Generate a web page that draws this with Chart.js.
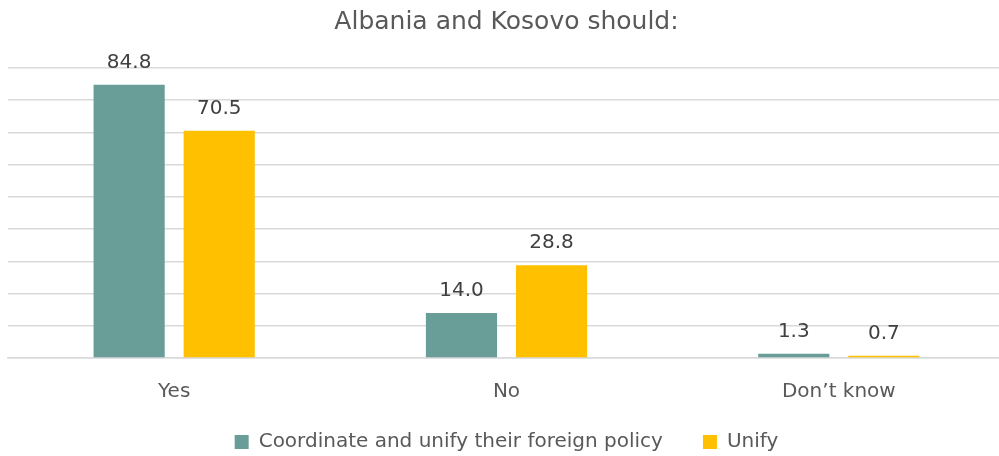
<!DOCTYPE html>
<html>
<head>
<meta charset="utf-8">
<script src="https://cdn.jsdelivr.net/npm/chart.js@4.4.0/dist/chart.umd.min.js"></script>
<style>
  html, body { margin: 0; padding: 0; background: #fff; overflow: hidden; }
  #wrap { width: 1006px; height: 456px; }
</style>
</head>
<body>
<div id="wrap"><canvas id="chart" width="1006" height="456"></canvas></div>
<script>
const categories = ['Yes', 'No', 'Don\u2019t know'];
const coordinate = [84.8, 14.0, 1.3];
const unify = [70.5, 28.8, 0.7];
const seriesNames = ['Coordinate and unify their foreign policy', 'Unify'];

const textColor = '#595959';
const fontFamily = '"DejaVu Sans", sans-serif';

// value labels above each bar, one decimal
const barValues = {
    id: 'barValues',
    afterDatasetsDraw(chart) {
        const ctx = chart.ctx;
        ctx.save();
        ctx.font = '20px ' + fontFamily;
        ctx.fillStyle = '#404040';
        ctx.textAlign = 'center';
        ctx.textBaseline = 'bottom';
        chart.data.datasets.forEach(function (ds, i) {
            chart.getDatasetMeta(i).data.forEach(function (bar, j) {
                ctx.fillText(ds.data[j].toFixed(1), bar.x, bar.y - 12);
            });
        });
        ctx.restore();
    }
};

// legend padding is wide for the gap between items; grow the box upward
// so the row sits just under the axis labels
const legendNudge = {
    id: 'legendNudge',
    afterLayout(chart) {
        chart.legend.top -= 26;
        chart.legend.height += 26;
    }
};

const ctx = document.getElementById('chart');
new Chart(ctx, {
    type: 'bar',
    data: {
        labels: categories,
        datasets: [
            {
                label: seriesNames[0],
                data: coordinate,
                backgroundColor: '#699D97'
            },
            {
                label: seriesNames[1],
                data: unify,
                backgroundColor: '#FFC000'
            }
        ]
    },
    options: {
        responsive: false,
        animation: false,
        categoryPercentage: 0.542,
        barPercentage: 0.79,
        layout: {
            padding: { left: 8, right: 1, top: 0, bottom: -6 }
        },
        scales: {
            y: {
                min: 0,
                max: 90,
                ticks: { display: false, stepSize: 10 },
                border: { display: false },
                grid: { color: '#D9D9D9', lineWidth: 1.5, drawTicks: false }
            },
            x: {
                grid: { display: false },
                border: { color: '#D9D9D9', width: 1.5 },
                ticks: {
                    color: textColor,
                    padding: 14,
                    font: { family: fontFamily, size: 20 }
                }
            }
        },
        plugins: {
            title: {
                display: true,
                text: 'Albania and Kosovo should:',
                color: textColor,
                font: { family: fontFamily, size: 25, weight: 'normal' },
                padding: { top: 7, bottom: 31 }
            },
            legend: {
                position: 'bottom',
                maxHeight: 44,
                labels: {
                    color: textColor,
                    boxWidth: 14,
                    boxHeight: 14,
                    padding: 40,
                    font: { family: fontFamily, size: 20 }
                }
            },
            tooltip: { enabled: false }
        }
    },
    plugins: [barValues, legendNudge]
});
</script>
</body>
</html>
